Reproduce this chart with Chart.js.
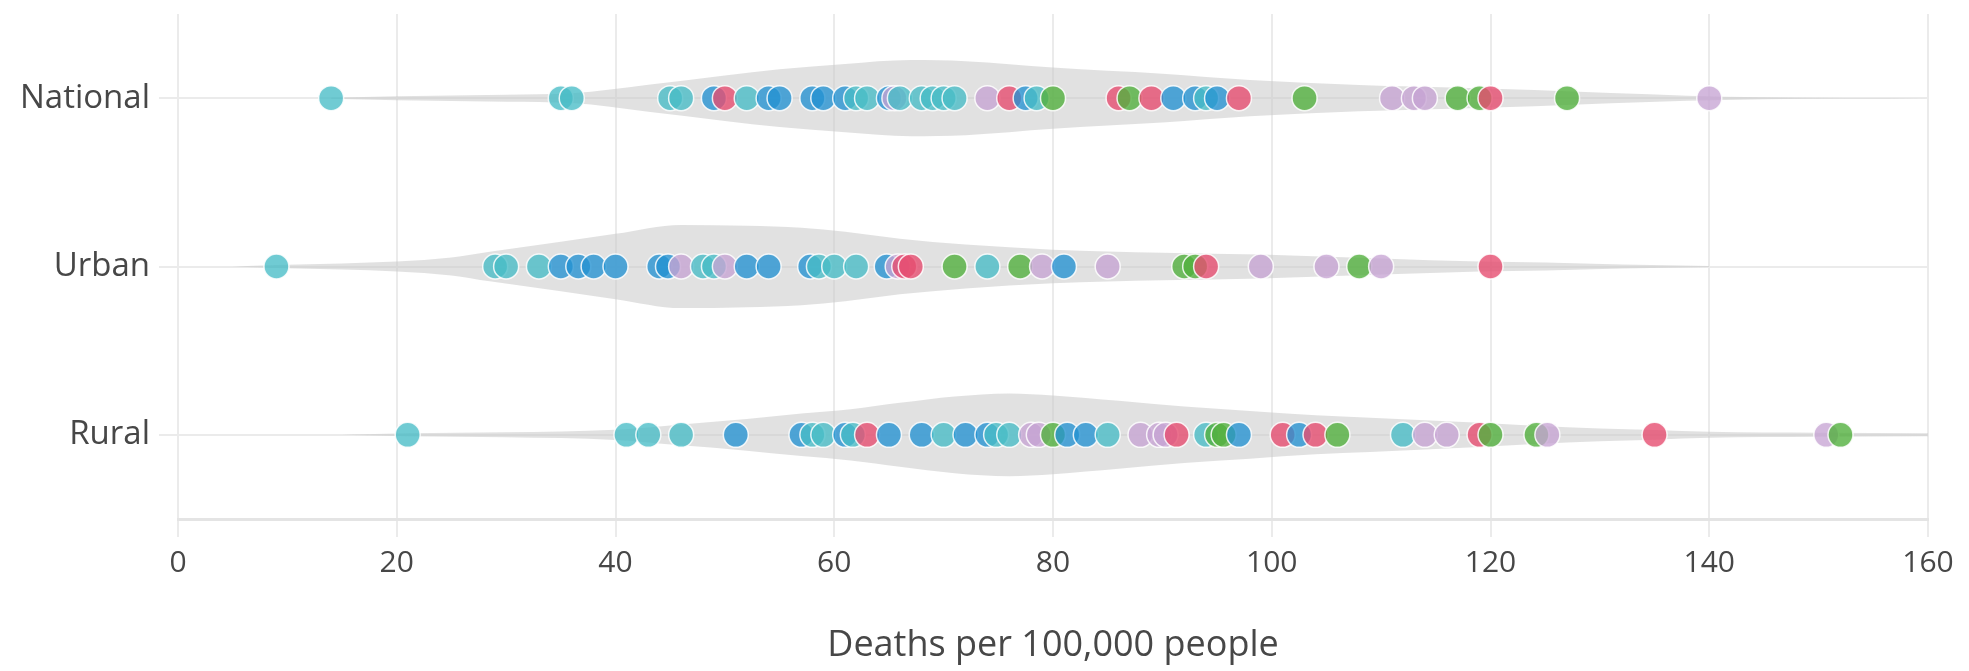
<!DOCTYPE html>
<html>
<head>
<meta charset="utf-8">
<script src="https://cdn.jsdelivr.net/npm/chart.js@4.4.1/dist/chart.umd.min.js"></script>
<style>
  html, body { margin: 0; padding: 0; background: #ffffff; }
  #wrap { width: 1969px; height: 671px; }
</style>
</head>
<body>
<div id="wrap"><canvas id="violinChart"></canvas></div>
<script>
// rows are placed at y = 1 (Rural), 2 (Urban), 3 (National)
const rowLabels = ['Rural', 'Urban', 'National'];
const xTickValues = [0, 20, 40, 60, 80, 100, 120, 140, 160];

// colour groups: t = teal, b = blue, r = red, g = green, l = lavender
const nationalValues = [14, 35, 36, 45, 46, 49, 50, 52, 54, 55, 58, 59, 61, 62, 63, 65, 65.5, 66, 68, 69, 70, 71, 74, 76, 77.5, 78.5, 80, 86, 87, 89, 91, 93, 94, 95, 97, 103, 111, 113, 114, 117, 119, 120, 127, 140];
const nationalGroups = ['t', 't', 't', 't', 't', 'b', 'r', 't', 'b', 'b', 'b', 'b', 'b', 't', 't', 'b', 'l', 't', 't', 't', 't', 't', 'l', 'r', 'b', 't', 'g', 'r', 'g', 'r', 'b', 'b', 't', 'b', 'r', 'g', 'l', 'l', 'l', 'g', 'g', 'r', 'g', 'l'];

const urbanValues = [9, 29, 30, 33, 35, 36.6, 38, 40, 44, 44.8, 46, 48, 49, 50, 52, 54, 57.8, 58.6, 60, 62, 64.8, 65.8, 66.4, 67, 71, 74, 77, 79, 81, 85, 92, 93, 94, 99, 105, 108, 110, 120];
const urbanGroups = ['t', 't', 't', 't', 'b', 'b', 'b', 'b', 'b', 'b', 'l', 't', 't', 'l', 'b', 'b', 'b', 't', 't', 't', 'b', 'l', 'r', 'r', 'g', 't', 'g', 'l', 'b', 'l', 'g', 'g', 'r', 'l', 'l', 'g', 'l', 'r'];

const ruralValues = [21, 41, 43, 46, 51, 57, 58, 59, 61, 61.7, 63, 65, 68, 70, 72, 74, 74.8, 76, 78, 78.7, 80, 81.3, 83, 85, 88, 89.7, 90.3, 91.3, 94, 95, 95.6, 97, 101, 102.5, 104, 106, 112, 114, 116, 119, 120, 124.2, 125.2, 135, 150.7, 152];
const ruralGroups = ['t', 't', 't', 't', 'b', 'b', 't', 't', 'b', 't', 'r', 'b', 'b', 't', 'b', 'b', 't', 't', 'l', 'l', 'g', 'b', 'b', 't', 'l', 'l', 'l', 'r', 't', 'g', 'g', 'b', 'r', 'b', 'r', 'g', 't', 'l', 'l', 'r', 'g', 'g', 'l', 'r', 'l', 'g'];

// violin outlines: x position and half width (in row units)
const nationalViolinX = [14, 20, 30, 36, 43, 50, 55, 61, 67, 72, 80, 90, 98, 108, 118, 124, 131, 138, 145, 160];
const nationalViolinHalf = [0.003, 0.012, 0.021, 0.029, 0.08, 0.135, 0.172, 0.203, 0.226, 0.22, 0.182, 0.145, 0.108, 0.078, 0.06, 0.048, 0.03, 0.015, 0.006, 0];

const urbanViolinX = [5, 9, 15, 20, 25, 28.5, 35, 40, 46, 52, 57, 61, 66, 72, 80, 90, 99, 110, 119, 125, 132, 140];
const urbanViolinHalf = [0, 0.009, 0.018, 0.029, 0.053, 0.088, 0.147, 0.194, 0.247, 0.242, 0.23, 0.206, 0.165, 0.13, 0.1, 0.082, 0.071, 0.047, 0.029, 0.024, 0.012, 0.003];

const ruralViolinX = [15, 21, 30, 40, 46, 52, 57, 61.5, 66, 71, 76, 80, 86, 92, 98, 104, 109, 119, 124, 130, 135, 140, 150, 160];
const ruralViolinHalf = [0, 0.009, 0.015, 0.03, 0.062, 0.094, 0.126, 0.152, 0.19, 0.228, 0.246, 0.234, 0.202, 0.168, 0.142, 0.116, 0.102, 0.072, 0.054, 0.038, 0.029, 0.018, 0.012, 0.009];

const groupColours = {
    t: 'rgba(72, 188, 198, 0.78)',
    b: 'rgba(36, 146, 210, 0.78)',
    r: 'rgba(230, 78, 112, 0.8)',
    g: 'rgba(82, 176, 62, 0.8)',
    l: 'rgba(198, 164, 212, 0.78)'
};

const fontFamily = '"Open Sans", Lato, sans-serif';
const textColour = '#474747';
const gridColour = '#ebebeb';

function violinSides(xs, halves, row) {
    return {
        upper: xs.map((x, i) => ({ x: x, y: row + halves[i] })),
        lower: xs.map((x, i) => ({ x: x, y: row - halves[i] }))
    };
}

function violinDatasets(xs, halves, row) {
    const sides = violinSides(xs, halves, row);
    const common = {
        type: 'line',
        borderWidth: 0,
        pointRadius: 0,
        cubicInterpolationMode: 'monotone',
        backgroundColor: 'rgba(200, 200, 200, 0.55)',
        borderColor: 'rgba(0, 0, 0, 0)',
        order: 2
    };
    return [
        Object.assign({}, common, { data: sides.upper, fill: '+1' }),
        Object.assign({}, common, { data: sides.lower, fill: false })
    ];
}

function pointDataset(values, groups, row) {
    return {
        type: 'scatter',
        data: values.map(v => ({ x: v, y: row })),
        pointBackgroundColor: groups.map(g => groupColours[g]),
        backgroundColor: groups.map(g => groupColours[g]),
        pointBorderColor: 'rgba(255, 255, 255, 0.85)',
        pointBorderWidth: 1.5,
        pointRadius: 12.5,
        order: 1
    };
}

function renderViolinChart() {
    const ctx = document.getElementById('violinChart');

    const datasets = []
        .concat(violinDatasets(nationalViolinX, nationalViolinHalf, 3))
        .concat(violinDatasets(urbanViolinX, urbanViolinHalf, 2))
        .concat(violinDatasets(ruralViolinX, ruralViolinHalf, 1));
    datasets.push(pointDataset(nationalValues, nationalGroups, 3));
    datasets.push(pointDataset(urbanValues, urbanGroups, 2));
    datasets.push(pointDataset(ruralValues, ruralGroups, 1));

    new Chart(ctx, {
        type: 'scatter',
        data: { datasets: datasets },
        options: {
            responsive: true,
            maintainAspectRatio: false,
            animation: false,
            events: [],
            layout: {
                padding: { top: 10, right: 41, left: 0, bottom: 0 }
            },
            plugins: {
                legend: { display: false },
                tooltip: { enabled: false }
            },
            scales: {
                x: {
                    type: 'linear',
                    min: 0,
                    max: 160,
                    afterBuildTicks: function(scale) {
                        scale.ticks = xTickValues.map(v => ({ value: v }));
                    },
                    afterFit: function(scale) {
                        scale.height = 152;
                    },
                    ticks: {
                        color: textColour,
                        padding: 8,
                        font: { family: fontFamily, size: 30 }
                    },
                    grid: {
                        color: gridColour,
                        lineWidth: 2,
                        tickLength: 18
                    },
                    border: {
                        display: true,
                        color: '#e4e4e4',
                        width: 3
                    },
                    title: {
                        display: true,
                        text: 'Deaths per 100,000 people',
                        color: textColour,
                        padding: { top: 0, bottom: 4 },
                        font: { family: fontFamily, size: 36 }
                    }
                },
                y: {
                    type: 'linear',
                    min: 0.5,
                    max: 3.5,
                    afterBuildTicks: function(scale) {
                        scale.ticks = [1, 2, 3].map(v => ({ value: v }));
                    },
                    afterFit: function(scale) {
                        scale.width = 178;
                        scale.paddingTop = 0;
                        scale.paddingBottom = 0;
                    },
                    ticks: {
                        color: textColour,
                        padding: 9,
                        font: { family: fontFamily, size: 33 },
                        callback: function(value) {
                            return rowLabels[value - 1];
                        }
                    },
                    grid: {
                        color: gridColour,
                        lineWidth: 2,
                        tickLength: 19
                    },
                    border: { display: false }
                }
            }
        }
    });
}

renderViolinChart();
</script>
</body>
</html>
